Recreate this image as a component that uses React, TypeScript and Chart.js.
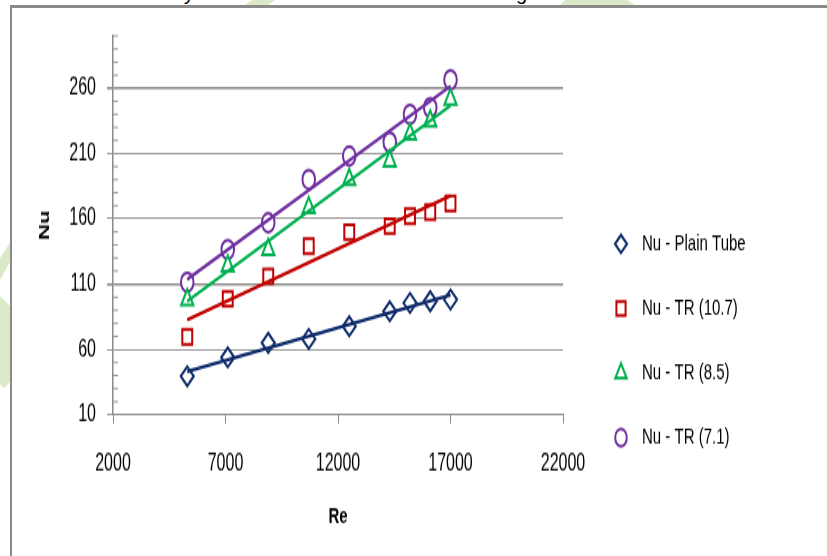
import React, { useEffect, useRef } from "react";
import { Chart, registerables } from "chart.js";

Chart.register(...registerables);

// ---- data ----
const reynolds = [5300, 7100, 8900, 10700, 12500, 14300, 15200, 16100, 17000];
const nuPlainTube = [39.4, 53.9, 65, 68, 77.7, 89.2, 95.6, 96.9, 98.2];
const nuTR107 = [69.6, 98.7, 116, 139, 149.8, 154.4, 162, 165.1, 171.8];
const nuTR85 = [98, 123.7, 136.5, 168.5, 190.2, 204.3, 224.7, 234.9, 251.6];
const nuTR71 = [111.5, 136.5, 157, 190.2, 208.1, 218.8, 240, 245.2, 266.4];
const seriesLabels = ["Nu - Plain Tube", "Nu - TR (10.7)", "Nu - TR (8.5)", "Nu - TR (7.1)"];
const xTicks = [2000, 7000, 12000, 17000, 22000];
const yTicks = [10, 60, 110, 160, 210, 260];
const xTitle = "Re";
const yTitle = "Nu";

// ---- styles ----
const W = 827;
const H = 556;
const INNER_H = 371;
const STRETCH = H / INNER_H;
const seriesColors = ["#0F2D6B", "#C00000", "#00B050", "#7030A0"];
const seriesMarkers = ["rectRot", "rect", "triangle", "circle"];
const markerRadius = [6.5, 7, 7, 6.3];
const gray = "#8A8A8A";
const FONT = "'Liberation Sans', Arial, sans-serif";

function fitLine(xs: number[], ys: number[]) {
  const n = xs.length;
  const mx = xs.reduce((a, b) => a + b, 0) / n;
  const my = ys.reduce((a, b) => a + b, 0) / n;
  let sxy = 0;
  let sxx = 0;
  for (let i = 0; i < n; i++) {
    sxy += (xs[i] - mx) * (ys[i] - my);
    sxx += (xs[i] - mx) * (xs[i] - mx);
  }
  const b = sxy / sxx;
  const a = my - b * mx;
  const x0 = Math.min(...xs);
  const x1 = Math.max(...xs);
  return [
    { x: x0, y: a + b * x0 },
    { x: x1, y: a + b * x1 },
  ];
}

function drawMarker(ctx: CanvasRenderingContext2D, style: string, x: number, y: number, r: number, color: string) {
  ctx.save();
  ctx.beginPath();
  if (style === "circle") {
    ctx.arc(x, y, r, 0, Math.PI * 2);
  } else if (style === "rect") {
    const h = r * Math.SQRT1_2;
    ctx.rect(x - h, y - h, 2 * h, 2 * h);
  } else if (style === "rectRot") {
    ctx.moveTo(x - r, y);
    ctx.lineTo(x, y - r);
    ctx.lineTo(x + r, y);
    ctx.lineTo(x, y + r);
    ctx.closePath();
  } else {
    ctx.moveTo(x, y - r);
    ctx.lineTo(x + 0.866 * r, y + 0.5 * r);
    ctx.lineTo(x - 0.866 * r, y + 0.5 * r);
    ctx.closePath();
  }
  ctx.fillStyle = "#fff";
  ctx.fill();
  ctx.lineWidth = 2;
  ctx.strokeStyle = color;
  ctx.stroke();
  ctx.restore();
}

const minorTicksPlugin = {
  id: "minorTicks",
  afterDraw(chart: any) {
    const ctx = chart.ctx;
    const ys = chart.scales.y;
    const left = chart.chartArea.left;
    ctx.save();
    ctx.strokeStyle = gray;
    ctx.lineWidth = 0.9;
    ctx.beginPath();
    for (let v = 20; v <= 300; v += 10) {
      if ((v - 10) % 50 === 0) continue;
      const py = ys.getPixelForValue(v);
      ctx.moveTo(left, py);
      ctx.lineTo(left + 5, py);
    }
    ctx.stroke();
    ctx.restore();
  },
};

const legendPlugin = {
  id: "sideLegend",
  afterDraw(chart: any) {
    const ctx = chart.ctx;
    const mx = chart.chartArea.right + 58;
    const tx = chart.chartArea.right + 79;
    const y0 = 162.7;
    const step = 43.1;
    ctx.save();
    seriesLabels.forEach((label, i) => {
      const y = y0 + i * step;
      drawMarker(ctx, seriesMarkers[i], mx, y, markerRadius[i] - 0.5, seriesColors[i]);
      ctx.fillStyle = "#000";
      ctx.font = `15px ${FONT}`;
      ctx.textAlign = "left";
      ctx.textBaseline = "middle";
      ctx.fillText(label, tx, y);
    });
    ctx.restore();
  },
};

export default function App() {
  const canvasRef = useRef<HTMLCanvasElement | null>(null);

  useEffect(() => {
    const canvas = canvasRef.current;
    if (!canvas) return;
    const allSeries = [nuPlainTube, nuTR107, nuTR85, nuTR71];
    const pointSets = allSeries.map((ys, i) => ({
      label: seriesLabels[i],
      data: reynolds.map((x, k) => ({ x, y: ys[k] })),
      showLine: false,
      pointStyle: seriesMarkers[i],
      pointRadius: markerRadius[i],
      pointBorderWidth: 2,
      pointBorderColor: seriesColors[i],
      pointBackgroundColor: "#fff",
      borderColor: seriesColors[i],
      backgroundColor: "#fff",
      order: 1,
    }));
    const trendSets = allSeries.map((ys, i) => ({
      label: seriesLabels[i] + " trend",
      data: fitLine(reynolds, ys),
      showLine: true,
      borderColor: seriesColors[i],
      borderWidth: 2.3,
      pointRadius: 0,
      fill: false,
      order: 0,
    }));

    const chart = new Chart(canvas, {
      type: "scatter",
      data: { datasets: [...pointSets, ...trendSets] as any },
      options: {
        animation: false,
        responsive: false,
        devicePixelRatio: 1,
        events: [],
        layout: { padding: { left: 0, top: 24, right: 264, bottom: 0 } },
        plugins: {
          legend: { display: false },
          tooltip: { enabled: false },
        },
        scales: {
          x: {
            type: "linear",
            min: 2000,
            max: 22000,
            afterBuildTicks: (s: any) => {
              s.ticks = xTicks.map((v) => ({ value: v }));
            },
            afterFit: (s: any) => {
              s.height = 94.3;
            },
            ticks: {
              color: "#000",
              font: { family: FONT, size: 16 },
              padding: 17,
              maxRotation: 0,
              autoSkip: false,
              callback: (v: any) => String(v),
            },
            grid: {
              drawOnChartArea: false,
              drawTicks: true,
              tickLength: 6,
              color: gray,
              lineWidth: 1,
            },
            border: { color: gray, width: 1 },
            title: {
              display: true,
              text: xTitle,
              color: "#000",
              font: { family: FONT, size: 15, weight: "bold" },
              padding: { top: 0, bottom: 17.3 },
            },
          },
          y: {
            type: "linear",
            min: 10,
            max: 300,
            afterBuildTicks: (s: any) => {
              s.ticks = yTicks.map((v) => ({ value: v }));
            },
            afterFit: (s: any) => {
              s.width = 113;
            },
            ticks: {
              color: "#000",
              font: { family: FONT, size: 16 },
              padding: 11,
              autoSkip: false,
              callback: (v: any) => String(v),
            },
            grid: {
              drawOnChartArea: true,
              drawTicks: true,
              tickLength: 6,
              color: gray,
              lineWidth: (c: any) =>
                c.tick && (c.tick.value === 260 || c.tick.value === 110) ? 1.6 : 0.9,
            },
            border: { color: gray, width: 1.5 },
            title: {
              display: true,
              text: yTitle,
              color: "#000",
              font: { family: FONT, size: 15, weight: "bold" },
              padding: { top: 36, bottom: 0 },
            },
          },
        },
      } as any,
      plugins: [minorTicksPlugin, legendPlugin],
    });
    return () => chart.destroy();
  }, []);

  return (
    <div
      style={{
        position: "absolute",
        left: 0,
        top: 0,
        width: W,
        height: H,
        overflow: "hidden",
        background: "#fff",
      }}
    >
      <svg width={W} height={H} style={{ position: "absolute", left: 0, top: 0 }}>
        <polygon points="252,0 275,0 268,5 245,5" fill="#DCE9C8" />
        <polygon points="565,0 627,0 635,5 560,5" fill="#DCE9C8" />
        <polygon points="10,243 10,262 0,280 0,258" fill="#DCE9C8" />
        <polygon points="0,296 10,306 10,382 4,388 0,384" fill="#DCE9C8" />
      </svg>
      <div
        style={{
          position: "absolute",
          left: 0,
          top: 0,
          width: W,
          height: 5,
          overflow: "hidden",
        }}
      >
        <span
          style={{
            position: "absolute",
            left: 184,
            top: -17,
            font: `20px ${FONT}`,
            lineHeight: "20px",
            color: "#000",
          }}
        >
          y
        </span>
        <span
          style={{
            position: "absolute",
            left: 516,
            top: -17,
            font: `20px ${FONT}`,
            lineHeight: "20px",
            color: "#000",
          }}
        >
          g
        </span>
      </div>
      <div
        style={{
          position: "absolute",
          left: 0,
          top: 0,
          width: W,
          height: INNER_H,
          transform: `scaleY(${STRETCH})`,
          transformOrigin: "0 0",
        }}
      >
        <canvas ref={canvasRef} width={W} height={INNER_H} />
      </div>
      <div
        style={{
          position: "absolute",
          left: 10,
          top: 5,
          width: W - 10,
          height: 3,
          background: gray,
        }}
      />
      <div
        style={{
          position: "absolute",
          left: 10,
          top: 5,
          width: 2,
          height: H - 5,
          background: gray,
        }}
      />
    </div>
  );
}
